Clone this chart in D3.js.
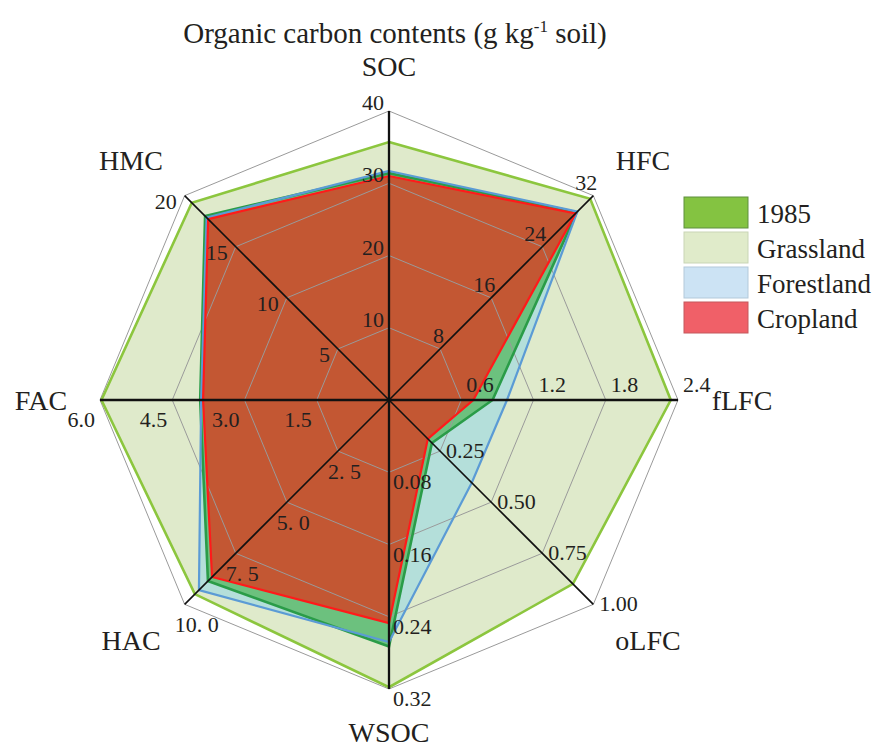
<!DOCTYPE html>
<html>
<head>
<meta charset="utf-8">
<script src="https://cdn.jsdelivr.net/npm/d3@7"></script>
<style>
  html, body { margin: 0; padding: 0; background: #fff; }
</style>
</head>
<body>
<svg id="chart" width="881" height="749" font-family="'Liberation Serif', 'Times New Roman', Times, serif"></svg>
<script>
// Radar axes, clockwise from the top
const axes = ["SOC", "HFC", "fLFC", "oLFC", "WSOC", "HAC", "FAC", "HMC"];
const axisMax = [40, 32, 2.4, 1.0, 0.32, 10, 6, 20];
const tickLabels = [
  ["10", "20", "30", "40"],
  ["8", "16", "24", "32"],
  ["0.6", "1.2", "1.8", "2.4"],
  ["0.25", "0.50", "0.75", "1.00"],
  ["0.08", "0.16", "0.24", "0.32"],
  ["2. 5", "5. 0", "7. 5", "10. 0"],
  ["1.5", "3.0", "4.5", "6.0"],
  ["5", "10", "15", "20"]
];

// Organic carbon contents per land use
const seriesNames = ["1985", "Grassland", "Forestland", "Cropland"];
const grassland  = [35.7, 31.5, 2.34, 0.90, 0.318, 9.5, 5.97, 19.3];
const forestland = [31.7, 29.5, 0.98, 0.405, 0.268, 9.3, 3.90, 17.85];
const y1985      = [31.4, 29.4, 0.86, 0.21, 0.273, 8.86, 3.92, 18.0];
const cropland   = [31.0, 29.2, 0.70, 0.19, 0.247, 8.66, 3.86, 17.7];

const FONT = "'Liberation Serif', 'Times New Roman', Times, serif";
const INK = "#231f20";

const svg = d3.select("#chart");
const cx = 389, cy = 400, R = 289;
const n = axes.length;
const angle = i => i * 2 * Math.PI / n;
const scales = axisMax.map(m => d3.scaleLinear().domain([0, m]).range([0, R]));
const pt = (i, r) => [cx + r * Math.sin(angle(i)), cy - r * Math.cos(angle(i))];

const lineGen = d3.line().curve(d3.curveLinearClosed);
const polygon = vals => lineGen(vals.map((v, i) => pt(i, scales[i](v))));

// Area fills, largest first
const layers = [
  { vals: grassland,  fill: "#dfeacb", stroke: "#8cc63e", w: 2.6 },
  { vals: forestland, fill: "#b4dfda", stroke: "#5b9bd5", w: 2.2 },
  { vals: y1985,      fill: "#6cc17e", stroke: "#2a9c48", w: 2.6 },
  { vals: cropland,   fill: "#c35733", stroke: "#ff1a1a", w: 2.2 }
];
svg.append("g").selectAll("path").data(layers).join("path")
  .attr("d", d => polygon(d.vals))
  .attr("fill", d => d.fill)
  .attr("stroke", "none");

// Grid rings
const levels = [0.25, 0.5, 0.75, 1];
svg.append("g").selectAll("path").data(levels).join("path")
  .attr("d", l => lineGen(d3.range(n).map(i => pt(i, R * l))))
  .attr("fill", "none")
  .attr("stroke", "#9a9a9a")
  .attr("stroke-width", 1);

// Outlines
const strokeOrder = [layers[0], layers[2], layers[1], layers[3]];
svg.append("g").selectAll("path").data(strokeOrder).join("path")
  .attr("d", d => polygon(d.vals))
  .attr("fill", "none")
  .attr("stroke", d => d.stroke)
  .attr("stroke-width", d => d.w)
  .attr("stroke-linejoin", "miter");

// Spokes
svg.append("g").selectAll("line").data(d3.range(n)).join("line")
  .attr("x1", cx).attr("y1", cy)
  .attr("x2", i => pt(i, R)[0]).attr("y2", i => pt(i, R)[1])
  .attr("stroke", "#111")
  .attr("stroke-width", i => i % 2 === 0 ? 2.3 : 1.6);

// Tick labels along each spoke
const tickPlace = [
  { anchor: "end",   dx: -5,  dy: -1 },
  { anchor: "end",   dx: 4,   dy: -6 },
  { anchor: "start", dx: 5,   dy: -8 },
  { anchor: "start", dx: 6,   dy: 7 },
  { anchor: "start", dx: 4,   dy: 17 },
  { anchor: "start", dx: -10, dy: 28 },
  { anchor: "end",   dx: -5,  dy: 27 },
  { anchor: "end",   dx: -8,  dy: 13 }
];
const tickG = svg.append("g");
axes.forEach((a, i) => {
  const s = scales[i];
  tickLabels[i].forEach((t, k) => {
    const [x, y] = pt(i, s(axisMax[i] * levels[k]));
    tickG.append("text")
      .attr("x", x + tickPlace[i].dx)
      .attr("y", y + tickPlace[i].dy)
      .attr("text-anchor", tickPlace[i].anchor)
      .attr("font-family", FONT)
      .attr("font-size", 22)
      .attr("fill", INK)
      .text(t);
  });
});

// Axis names
const namePlace = [
  { x: 389, y: 76 },
  { x: 643, y: 170 },
  { x: 742, y: 410 },
  { x: 648, y: 650 },
  { x: 389, y: 742 },
  { x: 131, y: 650 },
  { x: 41,  y: 410 },
  { x: 131, y: 170 }
];
svg.append("g").selectAll("text").data(axes).join("text")
  .attr("x", (d, i) => namePlace[i].x)
  .attr("y", (d, i) => namePlace[i].y)
  .attr("text-anchor", "middle")
  .attr("font-family", FONT)
  .attr("font-size", 28)
  .attr("fill", INK)
  .text(d => d);

// Title
const title = svg.append("text")
  .attr("x", 395).attr("y", 43)
  .attr("text-anchor", "middle")
  .attr("font-family", FONT)
  .attr("font-size", 29)
  .attr("fill", INK);
title.append("tspan").text("Organic carbon contents (g kg");
title.append("tspan").attr("dy", -11).attr("font-size", 17).text("-1");
title.append("tspan").attr("dy", 11).text(" soil)");

// Legend
const legendColors = [
  { fill: "#84c341", stroke: "#5f8f3e" },
  { fill: "#e0ebca", stroke: "#c9d5b6" },
  { fill: "#cce3f4", stroke: "#b3c9da" },
  { fill: "#f06068", stroke: "#c4585d" }
];
const legend = svg.append("g").attr("transform", "translate(684,197)");
const items = legend.selectAll("g").data(seriesNames).join("g")
  .attr("transform", (d, i) => `translate(0,${i * 35})`);
items.append("rect")
  .attr("width", 64).attr("height", 31)
  .attr("fill", (d, i) => legendColors[i].fill)
  .attr("stroke", (d, i) => legendColors[i].stroke)
  .attr("stroke-width", 1);
items.append("text")
  .attr("x", 73).attr("y", 26)
  .attr("font-family", FONT)
  .attr("font-size", 27)
  .attr("fill", INK)
  .text(d => d);
</script>
</body>
</html>
